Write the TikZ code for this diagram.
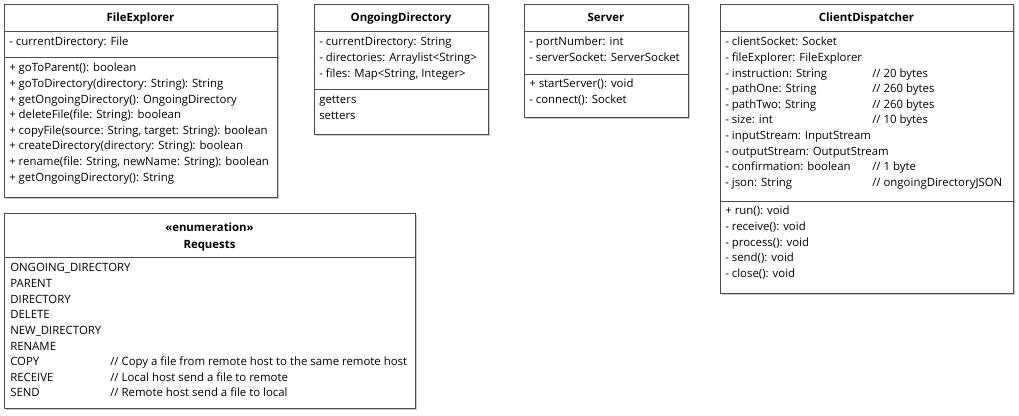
\documentclass[tikz,border=0pt]{standalone}
\usepackage{fontspec}
\setmainfont{Open Sans}
\usetikzlibrary{fit,shadows}

\tikzset{
  classbox/.style={draw=black!70, fill=white, line width=0.5pt, inner sep=0pt,
    drop shadow={shadow xshift=1.2pt, shadow yshift=-1.2pt, fill=black, opacity=0.2}},
  member/.style={anchor=base west, inner sep=0pt, font=\fontsize{8.55}{10}\selectfont},
  classname/.style={anchor=base, inner sep=0pt, font=\fontsize{8.55}{10}\selectfont\bfseries},
  divider/.style={draw=black!70, line width=0.5pt}
}

\begin{document}
\begin{tikzpicture}[x=0.75pt, y=-0.75pt]
  \useasboundingbox (0,0) rectangle (1019,416);

  % FileExplorer
  \node[classbox, fit={(4,4) (277,197)}] (fe) {};
  \node[classname] (fe-t) at (140.5,22) {FileExplorer};
  \draw[divider] (fe.west |- 0,31.5) -- (fe.east |- 0,31.5);
  \node[member] (fe-a0) at (9,46) {- currentDirectory: File};
  \draw[divider] (fe.west |- 0,57.5) -- (fe.east |- 0,57.5);
  \foreach \i/\txt in {0/{+ goToParent(): boolean},
                       1/{+ goToDirectory(directory: String):  String},
                       2/{+ getOngoingDirectory(): OngoingDirectory},
                       3/{+ deleteFile(file: String): boolean},
                       4/{+ copyFile(source: String, target: String): boolean},
                       5/{+ createDirectory(directory: String): boolean},
                       6/{+ rename(file: String, newName: String): boolean},
                       7/{+ getOngoingDirectory(): String}}
    \node[member] (fe-m\i) at (9,{72+15.6*\i}) {\txt};

  % OngoingDirectory
  \node[classbox, fit={(314,4) (488,134)}] (od) {};
  \node[classname] (od-t) at (401,22) {OngoingDirectory};
  \draw[divider] (od.west |- 0,31.5) -- (od.east |- 0,31.5);
  \foreach \i/\txt in {0/{- currentDirectory: String},
                       1/{- directories: Arraylist<String>},
                       2/{- files: Map<String, Integer>}}
    \node[member] (od-a\i) at (319,{46+15.6*\i}) {\txt};
  \draw[divider] (od.west |- 0,89) -- (od.east |- 0,89);
  \foreach \i/\txt in {0/getters, 1/setters}
    \node[member] (od-m\i) at (319,{104+15.6*\i}) {\txt};

  % Server
  \node[classbox, fit={(524,4) (688,117)}] (sv) {};
  \node[classname] (sv-t) at (606,22) {Server};
  \draw[divider] (sv.west |- 0,31.5) -- (sv.east |- 0,31.5);
  \foreach \i/\txt in {0/{- portNumber: int}, 1/{- serverSocket: ServerSocket}}
    \node[member] (sv-a\i) at (529,{46+15.6*\i}) {\txt};
  \draw[divider] (sv.west |- 0,74.5) -- (sv.east |- 0,74.5);
  \foreach \i/\txt in {0/{+ startServer(): void}, 1/{- connect(): Socket}}
    \node[member] (sv-m\i) at (529,{87.5+15.6*\i}) {\txt};

  % ClientDispatcher
  \node[classbox, fit={(720,4) (1013,293)}] (cd) {};
  \node[classname] (cd-t) at (866.5,22) {ClientDispatcher};
  \draw[divider] (cd.west |- 0,31.5) -- (cd.east |- 0,31.5);
  \foreach \i/\txt in {0/{- clientSocket: Socket},
                       1/{- fileExplorer: FileExplorer},
                       2/{- instruction: String},
                       3/{- pathOne: String},
                       4/{- pathTwo: String},
                       5/{- size: int},
                       6/{- inputStream: InputStream},
                       7/{- outputStream: OutputStream},
                       8/{- confirmation: boolean},
                       9/{- json: String}}
    \node[member] (cd-a\i) at (725,{46+15.6*\i}) {\txt};
  \foreach \i/\txt in {2/{// 20 bytes}, 3/{// 260 bytes}, 4/{// 260 bytes},
                       5/{// 10 bytes}, 8/{// 1 byte}, 9/{// ongoingDirectoryJSON}}
    \node[member] (cd-c\i) at (872,{46+15.6*\i}) {\txt};
  \draw[divider] (cd.west |- 0,201) -- (cd.east |- 0,201);
  \foreach \i/\txt in {0/{+ run(): void}, 1/{- receive(): void}, 2/{- process(): void},
                       3/{- send(): void}, 4/{- close(): void}}
    \node[member] (cd-m\i) at (725,{215+15.6*\i}) {\txt};

  % Requests
  \node[classbox, fit={(4,213) (415,408)}] (rq) {};
  \node[classname] (rq-s) at (209.5,232) {«enumeration»};
  \node[classname] (rq-t) at (209.5,248) {Requests};
  \draw[divider] (rq.west |- 0,257) -- (rq.east |- 0,257);
  \foreach \i/\txt in {0/ONGOING\_DIRECTORY, 1/PARENT, 2/DIRECTORY, 3/DELETE,
                       4/NEW\_DIRECTORY, 5/RENAME, 6/COPY, 7/RECEIVE, 8/SEND}
    \node[member] (rq-v\i) at (10,{272+15.6*\i}) {\txt};
  \foreach \i/\txt in {6/{// Copy a file from remote host to the same remote host},
                       7/{// Local host send a file to remote},
                       8/{// Remote host send a file to local}}
    \node[member] (rq-c\i) at (110,{272+15.6*\i}) {\txt};

\end{tikzpicture}
\end{document}
